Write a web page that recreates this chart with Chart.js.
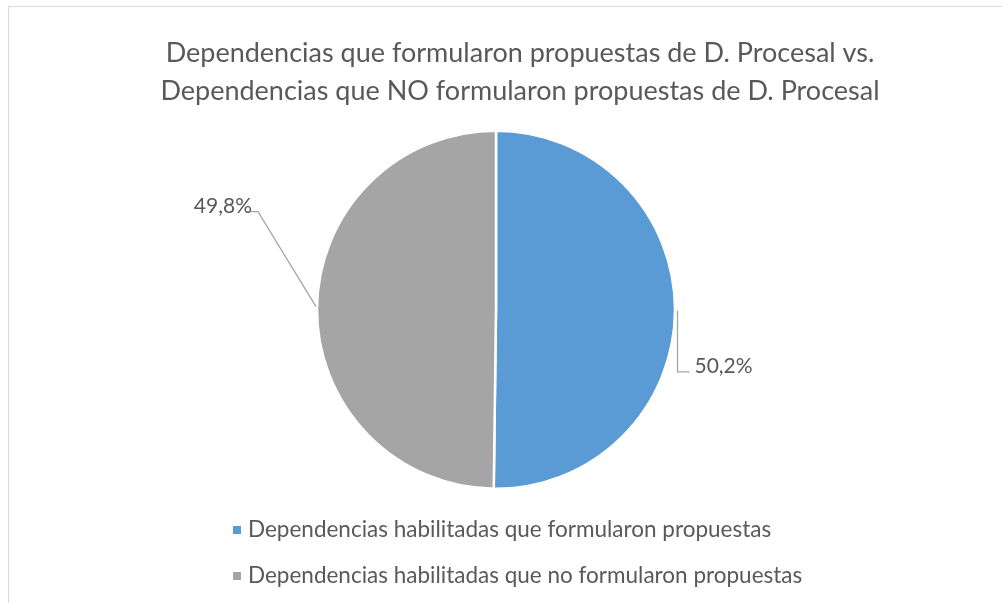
<!DOCTYPE html>
<html><head><meta charset="utf-8">
<script src="https://cdn.jsdelivr.net/npm/chart.js@4.4.0/dist/chart.umd.min.js"></script>
<style>
html,body{margin:0;padding:0;background:#fff;overflow:hidden;}
#wrap{position:relative;width:1002px;height:603px;}
#frame{position:absolute;left:8px;top:6px;width:1100px;height:700px;border:1px solid #d9d9d9;box-sizing:border-box;}
canvas{position:absolute;left:0;top:0;}
</style></head><body>
<div id="wrap"><div id="frame"></div><canvas id="c" width="1002" height="603"></canvas></div>
<script>
const titleLines = [
  'Dependencias que formularon propuestas de D. Procesal vs.',
  'Dependencias que NO formularon propuestas de D. Procesal'
];
const categories = [
  'Dependencias habilitadas que formularon propuestas',
  'Dependencias habilitadas que no formularon propuestas'
];
const values = [50.2, 49.8];
const valueLabels = ['50,2%', '49,8%'];
const colors = ['#5B9BD5', '#A5A5A5'];

const FONT = 'Lato, "Open Sans", sans-serif';
const TEXT = '#595959';

const decor = {
  id: 'decor',
  afterDraw(chart) {
    const ctx = chart.ctx;
    ctx.save();
    // title
    ctx.fillStyle = TEXT;
    ctx.font = '27px ' + FONT;
    ctx.textAlign = 'center';
    ctx.textBaseline = 'middle';
    ctx.fillText(titleLines[0], 520, 53);
    ctx.fillText(titleLines[1], 520, 91);
    // data labels with leader lines
    const meta = chart.getDatasetMeta(0);
    ctx.strokeStyle = '#A6A6A6';
    ctx.lineWidth = 1.3;
    ctx.font = '21px ' + FONT;
    meta.data.forEach((arc, i) => {
      const p = arc.getProps(['x','y','startAngle','endAngle','outerRadius'], true);
      const mid = (p.startAngle + p.endAngle) / 2;
      const ax = p.x + Math.cos(mid) * p.outerRadius;
      const ay = p.y + Math.sin(mid) * p.outerRadius;
      ctx.beginPath();
      if (i === 0) {
        const sx = ax + 2.5, ey = ay + 61;
        ctx.moveTo(sx, ay);
        ctx.lineTo(sx, ey);
        ctx.lineTo(sx + 12, ey);
        ctx.stroke();
        ctx.textAlign = 'left';
        ctx.textBaseline = 'alphabetic';
        ctx.fillText(valueLabels[i], sx + 17, ey + 1);
      } else {
        const ex = ax - 59, ey = ay - 97;
        ctx.moveTo(ax - 1, ay - 2);
        ctx.lineTo(ex, ey);
        ctx.lineTo(ex - 12, ey);
        ctx.stroke();
        ctx.textAlign = 'right';
        ctx.textBaseline = 'alphabetic';
        ctx.fillText(valueLabels[i], ex - 6, ey + 1);
      }
    });
    // legend
    ctx.font = '22.5px ' + FONT;
    ctx.textAlign = 'left';
    ctx.textBaseline = 'middle';
    categories.forEach((c, i) => {
      const y = 530 + i * 46;
      ctx.fillStyle = colors[i];
      ctx.fillRect(233, y - 4, 8, 8);
      ctx.fillStyle = TEXT;
      ctx.fillText(c, 248, y);
    });
    ctx.restore();
  }
};

new Chart(document.getElementById('c'), {
  type: 'pie',
  data: {
    labels: categories,
    datasets: [{
      data: values,
      backgroundColor: colors,
      borderColor: '#ffffff',
      borderWidth: 2.5
    }]
  },
  options: {
    responsive: false,
    animation: false,
    radius: 179,
    layout: { padding: { left: 300, right: 310, top: 130, bottom: 113.6 } },
    plugins: { legend: { display: false }, title: { display: false }, tooltip: { enabled: false } }
  },
  plugins: [decor]
});
</script>
</body></html>
